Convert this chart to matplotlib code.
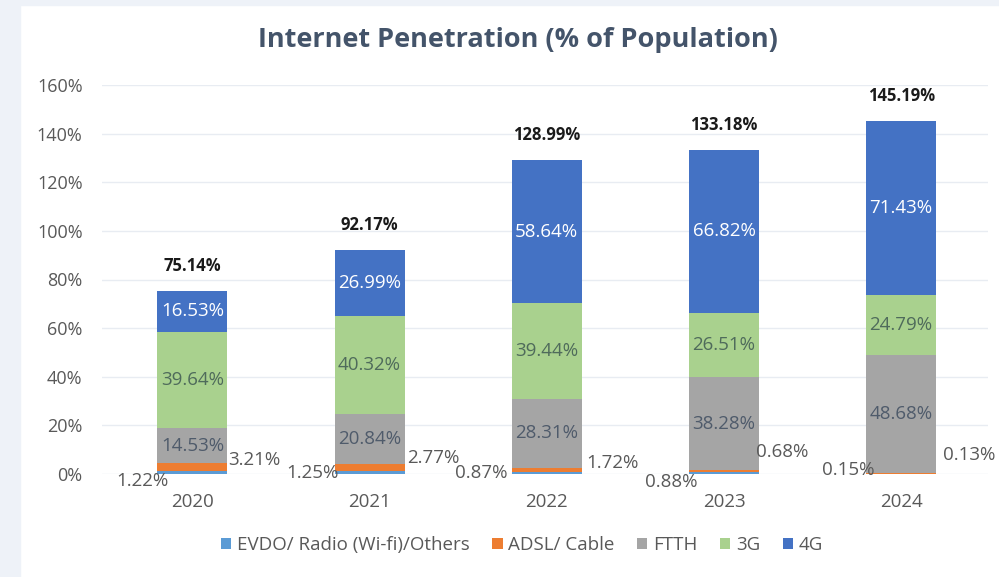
import numpy as np
import matplotlib.pyplot as plt
from matplotlib.patches import Rectangle

years = ['2020', '2021', '2022', '2023', '2024']
evdo = [1.22, 1.25, 0.87, 0.88, 0.15]
adsl = [3.21, 2.77, 1.72, 0.68, 0.13]
ftth = [14.53, 20.84, 28.31, 38.28, 48.68]
g3 = [39.64, 40.32, 39.44, 26.51, 24.79]
g4 = [16.53, 26.99, 58.64, 66.82, 71.43]
totals = [75.14, 92.17, 128.99, 133.18, 145.19]

series = ['EVDO/ Radio (Wi-fi)/Others', 'ADSL/ Cable', 'FTTH', '3G', '4G']
colors = ['#5b9bd5', '#ed7d31', '#a5a5a5', '#a9d18e', '#4472c4']

# hand-moved label offsets for the thin segments (x in categories, y in %)
evdo_off = [(-0.28, -3.0), (-0.32, 0.4), (-0.37, 0.4), (-0.30, -3.3), (-0.30, 1.6)]
adsl_off = [(0.35, 5.8), (0.36, 6.5), (0.37, 4.5), (0.33, 9.0), (0.385, 7.8)]

plt.rcParams['font.family'] = ['Open Sans', 'DejaVu Sans']
txt = '#595959'

fig = plt.figure(figsize=(9.99, 5.77), dpi=100)
fig.patches.append(Rectangle((0, 0), 20/999, 1, transform=fig.transFigure,
                             color='#eef2f8', zorder=0))
fig.patches.append(Rectangle((0, 1 - 5/577), 1, 5/577, transform=fig.transFigure,
                             color='#eef2f8', zorder=0))
ax = fig.add_axes([102/999, 1 - 474/577, 886/999, 389/577])

x = np.arange(len(years))
w = 0.395
bottom = np.zeros(len(years))
for vals, c, name in zip([evdo, adsl, ftth, g3, g4], colors, series):
    ax.bar(x, vals, w, bottom=bottom, color=c, label=name, zorder=2)
    bottom += np.array(vals)

# labels in the big segments
base = np.array(evdo) + np.array(adsl)
for vals, col in [(ftth, '#4f5b6b'), (g3, '#4f6b5b'), (g4, 'white')]:
    for i, v in enumerate(vals):
        ax.text(x[i], base[i] + v / 2, f'{v:.2f}%', ha='center', va='center',
                color=col, fontsize=13.5, zorder=3)
    base = base + np.array(vals)

for i in range(len(years)):
    ax.text(x[i] + evdo_off[i][0], evdo_off[i][1], f'{evdo[i]:.2f}%',
            ha='center', va='center', color=txt, fontsize=13.5, zorder=3)
    ax.text(x[i] + adsl_off[i][0], adsl_off[i][1], f'{adsl[i]:.2f}%',
            ha='center', va='center', color=txt, fontsize=13.5, zorder=3)
    ax.annotate(f'{totals[i]:.2f}%', (x[i], totals[i]), xytext=(0, 18),
                textcoords='offset points', ha='center', va='center',
                fontsize=12, fontweight='bold', color='#1a1a1a')

ax.set_xlim(-0.51, 4.49)
ax.set_ylim(0, 160)
ax.set_yticks(np.arange(0, 161, 20))
ax.set_yticklabels([f'{t}%' for t in range(0, 161, 20)])
ax.set_xticks(x)
ax.set_xticklabels(years)
ax.tick_params(length=0, colors=txt)
ax.tick_params(axis='y', pad=14, labelsize=13)
ax.tick_params(axis='x', pad=14, labelsize=13.5)
ax.grid(axis='y', color='#e8ecf2', linewidth=1, zorder=0)
for s in ax.spines.values():
    s.set_visible(False)

fig.text(518/999, 1 - 40/577, 'Internet Penetration (% of Population)',
         ha='center', va='center', fontsize=19.5, fontweight='bold', color='#44546a')

leg = fig.legend(loc='center', bbox_to_anchor=(522/999, 1 - 545/577), ncol=5,
                 frameon=False, fontsize=13.5, handlelength=0.55, handleheight=0.55,
                 handletextpad=0.3, columnspacing=1.2)
for t in leg.get_texts():
    t.set_color(txt)

fig.savefig('out.png', dpi=100)
